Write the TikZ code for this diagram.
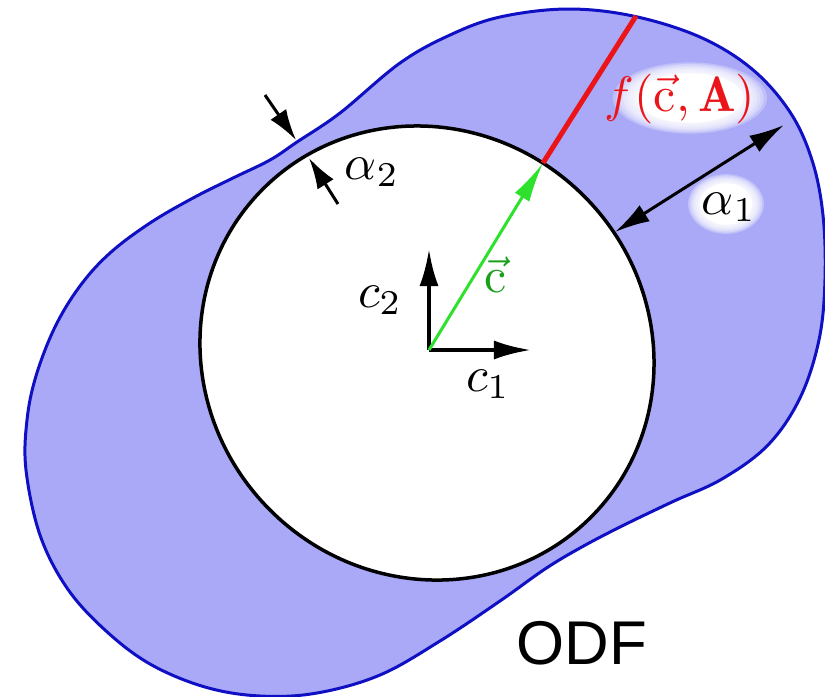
\documentclass[tikz,border=0pt]{standalone}
\usepackage{fontspec}
\usepackage{amsmath}
\usepackage{tikz}
\usetikzlibrary{arrows.meta}

\newfontfamily\odffont{Liberation Sans}

\definecolor{odffill}{RGB}{169,169,248}
\definecolor{odfline}{RGB}{15,15,195}
\definecolor{fred}{RGB}{235,20,25}
\definecolor{cgreen}{RGB}{45,225,45}
\definecolor{cdark}{RGB}{25,160,25}

\begin{document}
\begin{tikzpicture}[
    x=0.2bp, y=-0.2bp,
    odf/.style={fill=odffill, draw=odfline, line width=0.6bp},
    ring/.style={fill=white, draw=black, line width=0.7bp},
    axis/.style={-{Latex[length=7.4bp, width=3.8bp]}, line width=0.8bp},
    gap/.style={-{Latex[length=6.2bp, width=3.8bp]}, line width=0.6bp},
    span/.style={{Latex[length=7bp, width=3.8bp]}-{Latex[length=7bp, width=3.8bp]}, line width=0.6bp},
    cvec/.style={-{Latex[length=8bp, width=3.4bp]}, cgreen, line width=0.6bp},
    fline/.style={fred, line width=1bp},
    glow/.style={fill=white, fill opacity=0.28},
    lbl/.style={inner sep=0pt}
]
\useasboundingbox (0,0) rectangle (825,697);

% distribution and unit circle
\filldraw[odf] plot[smooth cycle, tension=0.6] coordinates {
    (500,17) (567,9) (633,16) (700,37) (752,69) (790,112)
    (812,160) (823,215) (825,280) (819,340) (800,398) (768,445)
    (722,479) (672,502) (620,527) (580,548) (545,569)
    (500,601) (440,641) (380,675) (317,693) (260,696) (205,687)
    (150,664) (105,630) (67,588) (40,535) (26,470) (27,420) (36,376)
    (55,327) (80,286) (110,253) (150,223) (193,198) (233,178) (270,160)
    (297,142) (340,113) (400,63) (450,35)};
\filldraw[ring, rotate around={-45:(427,353)}] (427,353) ellipse [x radius=232, y radius=222];

\coordinate (O) at (429,350);
\coordinate (E1) at (531,350);
\coordinate (E2) at (429,249);
\coordinate (P) at (543,163);
\coordinate (Q) at (636,16);
\coordinate (A1in) at (615,232);
\coordinate (A1out) at (784,125);
\coordinate (A2top) at (265,95);
\coordinate (A2out) at (296,140);
\coordinate (A2in) at (309,158);
\coordinate (A2bot) at (338,204);

\draw[fline] (P) -- (Q);
\draw[axis] (O) -- (E1);
\draw[axis] (O) -- (E2);
\draw[cvec] (O) -- (P);
\draw[gap] (A2top) -- (A2out);
\draw[gap] (A2bot) -- (A2in);
\draw[span] (A1in) -- (A1out);

% soft white patches behind the labels
\foreach \cx/\cy/\rx/\ry in {690/98/67/31, 726/204/33/26}{
    \foreach \s in {1.15,1.1,1.05,1,0.95,0.9,0.85}
        \fill[glow] (\cx,\cy) ellipse [x radius=\rx*\s, y radius=\ry*\s];
    \fill[white] (\cx,\cy) ellipse [x radius=\rx*0.8, y radius=\ry*0.8];
}

\node[lbl, text=fred] (flbl) at (680,99) {$f(\vec{\mathrm{c}},\mathbf{A})$};
\node[lbl] (a1lbl) at (729,207) {$\alpha_1$};
\node[lbl] (a2lbl) at (372,172) {$\alpha_2$};
\node[lbl] (c1lbl) at (488,384) {$c_1$};
\node[lbl] (c2lbl) at (380,300) {$c_2$};
\node[lbl, text=cdark] (clbl) at (496,275) {$\vec{\mathrm{c}}$};
\node[lbl, font=\odffont\fontsize{12.4}{14}\selectfont] (odflbl) at (582,643) {ODF};
\end{tikzpicture}
\end{document}
